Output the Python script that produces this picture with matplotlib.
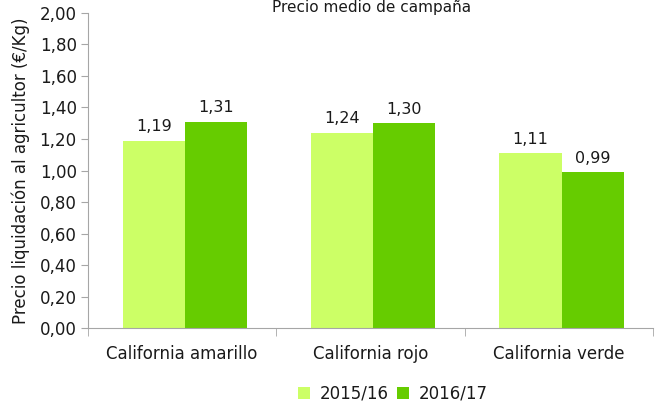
import numpy as np
import matplotlib.pyplot as plt
from matplotlib.ticker import FuncFormatter

categorias = ["California amarillo", "California rojo", "California verde"]
series = ["2015/16", "2016/17"]
precio_1516 = [1.19, 1.24, 1.11]
precio_1617 = [1.31, 1.30, 0.99]
colores = ["#CCFF66", "#66CC00"]

plt.rcParams["font.family"] = ["DejaVu Sans"]
texto = "#1a1a1a"
gris = "#a6a6a6"
fs = 12

fig = plt.figure(figsize=(6.55, 4.05), dpi=100)
ax = fig.add_axes([0.134, 0.19, 0.863, 0.778])

x = np.arange(len(categorias))
w = 0.33
for i, (vals, nombre) in enumerate(zip([precio_1516, precio_1617], series)):
    pos = x + (i - 0.5) * w + 0.015
    ax.bar(pos, vals, w, color=colores[i], label=nombre)
    for p, v in zip(pos, vals):
        ax.text(p, v + 0.04, f"{v:.2f}".replace(".", ","), ha="center", va="bottom",
                fontsize=fs - 0.5, color=texto)

ax.set_xlim(-0.5, 2.5)
ax.set_ylim(0, 2.0)
ax.set_yticks(np.arange(0, 2.01, 0.2))
ax.yaxis.set_major_formatter(FuncFormatter(lambda v, _: f"{v:.2f}".replace(".", ",")))
ax.set_xticks(x)
ax.set_xticklabels(categorias)
ax.set_xticks([-0.5, 0.5, 1.5, 2.5], minor=True)
ax.tick_params(axis="x", which="major", length=0, pad=12, labelsize=fs, labelcolor=texto)
ax.tick_params(axis="x", which="minor", length=6, color=gris)
ax.tick_params(axis="y", length=5, color=gris, labelsize=fs, labelcolor=texto, pad=3)

for s in ["top", "right"]:
    ax.spines[s].set_visible(False)
for s in ["left", "bottom"]:
    ax.spines[s].set_color(gris)

ax.set_ylabel("Precio liquidación al agricultor (€/Kg)", fontsize=fs, color=texto, labelpad=7)
fig.text(0.567, 1.0, "Precio medio de campaña", ha="center", va="top",
         fontsize=fs - 1, color=texto)

ax.legend(loc="lower center", bbox_to_anchor=(0.54, -0.285), ncol=2, frameon=False,
          fontsize=fs, handlelength=0.7, handleheight=0.7, handletextpad=0.6,
          columnspacing=0.5, labelcolor=texto)

plt.savefig("out.png", dpi=100)
